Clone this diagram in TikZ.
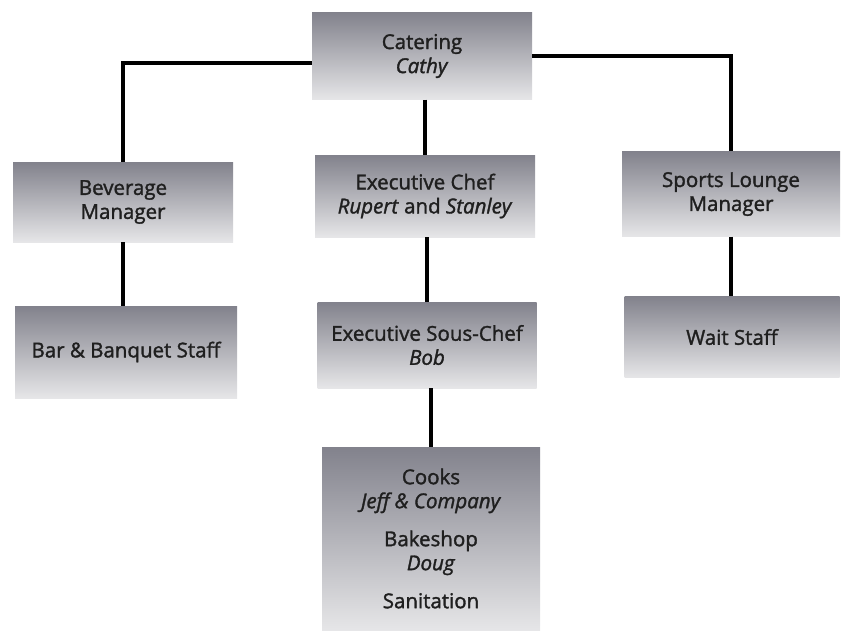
\documentclass[tikz,border=0pt]{standalone}
\usepackage{fontspec}
\setmainfont{Open Sans}[UprightFeatures={FakeBold=1.6},ItalicFeatures={FakeBold=1.6}]
\definecolor{boxtop}{RGB}{130,130,140}
\definecolor{boxbot}{RGB}{230,230,232}
\begin{document}
\begin{tikzpicture}[x=1pt,y=-1pt,
	unit/.style={shade, top color=boxtop, bottom color=boxbot, inner sep=0pt, align=center,
		font=\fontsize{20.5}{24}\selectfont, text=black!88},
	link/.style={line width=4pt}]
	\useasboundingbox (0,0) rectangle (841,630);
	% top
	\node[unit, minimum width=220pt, minimum height=87pt] (cat) at (422,56) {Catering\\\textit{Cathy}};
	% second row
	\node[unit, minimum width=220pt, minimum height=80pt] (bev) at (123,202) {Beverage\\Manager};
	\node[unit, minimum width=220pt, minimum height=82pt] (chef) at (425,196) {Executive Chef\\\textit{Rupert} and \textit{Stanley}};
	\node[unit, minimum width=218pt, minimum height=85pt] (spo) at (731,194) {Sports Lounge\\Manager};
	% third row
	\node[unit, minimum width=222pt, minimum height=92pt] (bar) at (126,352) {Bar \& Banquet Staff};
	\node[unit, minimum width=219pt, minimum height=86pt] (sous) at (427,345) {Executive Sous-Chef\\\textit{Bob}};
	\node[unit, minimum width=215pt, minimum height=81pt] (wait) at (732,337) {Wait Staff};
	% bottom
	\node[unit, minimum width=218pt, minimum height=183pt] (cook) at (431,538.5)
		{Cooks\\\textit{Jeff \& Company}\\[14pt]Bakeshop\\\textit{Doug}\\[14pt]Sanitation};
	% lines
	\draw[link] ([yshift=-7pt]cat.west) -| (bev.north);
	\draw[link] (cat.east) -| (spo.north);
	\draw[link] (chef.north |- cat.south) -- (chef.north);
	\draw[link] (bev.south) -- (bev.south |- bar.north);
	\draw[link] (sous.north |- chef.south) -- (sous.north);
	\draw[link] (cook.north |- sous.south) -- (cook.north);
	\draw[link] (spo.south) -- (spo.south |- wait.north);
\end{tikzpicture}
\end{document}
